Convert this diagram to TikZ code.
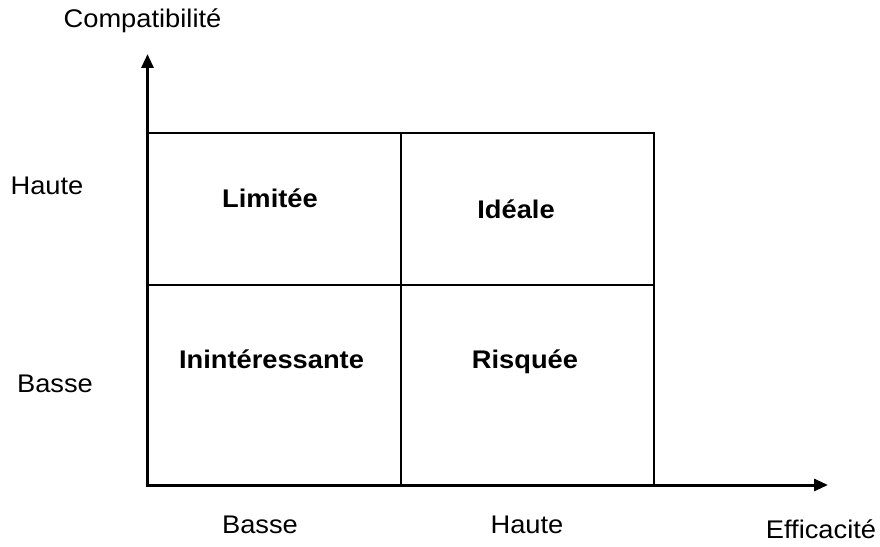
\documentclass[tikz,border=0pt]{standalone}
\usepackage{fontspec}
\setmainfont[FakeStretch=1.07]{Liberation Sans}
\usetikzlibrary{arrows.meta}
\begin{document}
\begin{tikzpicture}[x=1pt,y=1pt,
  lbl/.style={font=\fontsize{25.5}{30}\selectfont, inner sep=0pt, anchor=base},
  quad/.style={font=\fontsize{25.5}{30}\selectfont\bfseries, inner sep=0pt, anchor=base},
  axis/.style={line width=3pt, -{Triangle[length=14pt,width=12pt]}},
  grid/.style={line width=2pt}]
\useasboundingbox (0,0) rectangle (880,546);
\coordinate (O) at (147.5,61);
\coordinate (Ytop) at (147.5,492);
\coordinate (Xend) at (828,61);
\coordinate (TL) at (147.5,413);
\coordinate (BR) at (654,61);
\coordinate (TR) at (654,413);
\coordinate (MT) at (401,413);
\coordinate (MB) at (401,61);
\coordinate (ML) at (147.5,261);
\coordinate (MR) at (654,261);
\draw[grid] (TL) -- (TR) -- (BR);
\draw[grid] (MT) -- (MB);
\draw[grid] (ML) -- (MR);
\draw[axis] ([yshift=-1.5pt]O) -- (Ytop);
\draw[axis] ([xshift=-1.5pt]O) -- (Xend);
\node[lbl] (ylab) at (142.5,518) {Compatibilité};
\node[lbl] (yhaute) at (47,351) {Haute};
\node[lbl] (ybasse) at (55,153) {Basse};
\node[lbl] (xbasse) at (260,13) {Basse};
\node[lbl] (xhaute) at (527,13) {Haute};
\node[lbl] (xlab) at (821,8) {Efficacité};
\node[quad] (lim) at (270,338) {Limitée};
\node[quad] (ide) at (516,327) {Idéale};
\node[quad] (inin) at (271.5,177) {Inintéressante};
\node[quad] (ris) at (525,177) {Risquée};
\end{tikzpicture}
\end{document}
